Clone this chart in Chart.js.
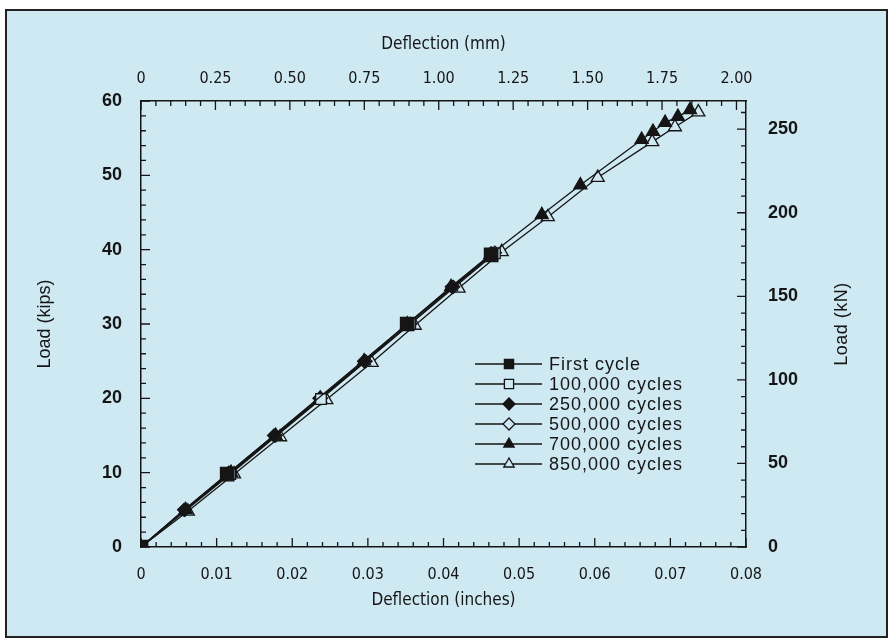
<!DOCTYPE html>
<html>
<head>
<meta charset="utf-8">
<title>Load vs deflection</title>
<script src="https://cdn.jsdelivr.net/npm/chart.js@4.4.0/dist/chart.umd.min.js"></script>
<style>
  html, body { margin: 0; padding: 0; background: #fff; }
</style>
</head>
<body>
<canvas id="chart" width="894" height="641"></canvas>
<script>
// deflection (inches) and load (kips)
var firstDefl = [0, 0.0114, 0.0352, 0.0463];
var firstLoad = [0, 9.8, 30.0, 39.3];

var c100Defl = [0, 0.0118, 0.0238, 0.0356, 0.0468];
var c100Load = [0, 9.8, 19.9, 30.0, 39.5];

var c250Defl = [0, 0.0057, 0.0116, 0.0176, 0.0236, 0.0295, 0.0353, 0.0411, 0.0464];
var c250Load = [0, 5.0, 10.0, 15.0, 20.0, 25.0, 30.0, 35.0, 39.5];

var c500Defl = [0, 0.0058, 0.0118, 0.0178, 0.0238, 0.0297, 0.0356, 0.0413, 0.0468];
var c500Load = [0, 5.0, 10.0, 15.0, 20.0, 25.0, 30.0, 35.0, 39.6];

var c700Defl = [0, 0.0059, 0.0119, 0.0178, 0.0237, 0.0295, 0.0352, 0.0410, 0.0462, 0.0530, 0.0581, 0.0662, 0.0677, 0.0693, 0.0710, 0.0726];
var c700Load = [0, 5.0, 10.0, 15.0, 20.0, 25.0, 30.0, 35.0, 39.3, 44.7, 48.7, 54.8, 55.9, 57.1, 57.9, 58.8];

var c850Defl = [0, 0.0062, 0.0123, 0.0184, 0.0245, 0.0305, 0.0362, 0.0420, 0.0477, 0.0538, 0.0604, 0.0676, 0.0706, 0.0737];
var c850Load = [0, 4.8, 9.8, 14.8, 19.8, 24.8, 29.8, 34.8, 39.7, 44.4, 49.7, 54.5, 56.5, 58.5];

var seriesNames = ['First cycle', '100,000 cycles', '250,000 cycles', '500,000 cycles', '700,000 cycles', '850,000 cycles'];

// axis ticks
var inchTicks = [0, 0.01, 0.02, 0.03, 0.04, 0.05, 0.06, 0.07, 0.08];
var mmTicks = [0, 0.25, 0.5, 0.75, 1.0, 1.25, 1.5, 1.75, 2.0];
var kipTicks = [0, 10, 20, 30, 40, 50, 60];
var knTicks = [0, 50, 100, 150, 200, 250];

var MM_PER_IN = 25.4;
var KN_PER_KIP = 4.448;

var BG = '#cfe9f3';
var INK = '#151515';
var NARROW = "'Liberation Sans Narrow', 'Arial Narrow', 'DejaVu Sans Condensed', sans-serif";
var SANS = "'Liberation Sans', Arial, sans-serif";

function pairs(xs, ys) {
    return xs.map(function(x, i) { return { x: x, y: ys[i] }; });
}

function makeSet(label, xs, ys, style, radius, filled) {
    return {
        label: label,
        data: pairs(xs, ys),
        xAxisID: 'x',
        yAxisID: 'y',
        showLine: true,
        borderColor: INK,
        borderWidth: 1.3,
        pointStyle: style,
        pointRadius: radius,
        pointBackgroundColor: filled ? INK : BG,
        pointBorderColor: INK,
        pointBorderWidth: 1.3
    };
}

var markers = [
    { style: 'rect', r: 9.5, filled: true },
    { style: 'rect', r: 7.5, filled: false },
    { style: 'rectRot', r: 6.5, filled: true },
    { style: 'rectRot', r: 6.5, filled: false },
    { style: 'triangle', r: 7.5, filled: true },
    { style: 'triangle', r: 7.5, filled: false }
];

var allDefl = [firstDefl, c100Defl, c250Defl, c500Defl, c700Defl, c850Defl];
var allLoad = [firstLoad, c100Load, c250Load, c500Load, c700Load, c850Load];

var datasets = seriesNames.map(function(name, i) {
    return makeSet(name, allDefl[i], allLoad[i], markers[i].style, markers[i].r, markers[i].filled);
});

function fixedTicks(list) {
    return function(scale) { scale.ticks = list.map(function(v) { return { value: v }; }); };
}

function decimalLabel(v) { return v === 0 ? '0' : v.toFixed(2); }

// background and outer frame
var backdrop = {
    id: 'backdrop',
    beforeDraw: function(chart) {
        var ctx = chart.ctx;
        ctx.save();
        ctx.fillStyle = '#fff';
        ctx.fillRect(0, 0, chart.width, chart.height);
        ctx.fillStyle = BG;
        ctx.fillRect(6, 10, 881, 627);
        ctx.strokeStyle = '#222';
        ctx.lineWidth = 2;
        ctx.strokeRect(6, 10, 881, 627);
        ctx.restore();
    }
};

// inward major / minor tick marks on all four sides
function tickRun(scale, from, to, step, majorEvery) {
    var out = [];
    var n = Math.round((to - from) / step);
    for (var i = 0; i <= n; i++) {
        out.push({ px: scale.getPixelForValue(from + i * step), major: i % majorEvery === 0 });
    }
    return out;
}

var innerTicks = {
    id: 'innerTicks',
    afterDraw: function(chart) {
        var ctx = chart.ctx, a = chart.chartArea, s = chart.scales;
        var MAJ = 9, MIN = 5;
        ctx.save();
        ctx.strokeStyle = INK;
        ctx.lineWidth = 1.3;
        ctx.beginPath();
        tickRun(s.x, 0, 0.08, 0.002, 5).forEach(function(t) {
            ctx.moveTo(t.px, a.bottom); ctx.lineTo(t.px, a.bottom - (t.major ? MAJ : MIN));
        });
        tickRun(s.xTop, 0, 2.0, 0.05, 5).forEach(function(t) {
            ctx.moveTo(t.px, a.top); ctx.lineTo(t.px, a.top + (t.major ? MAJ : MIN));
        });
        tickRun(s.y, 0, 60, 2, 5).forEach(function(t) {
            ctx.moveTo(a.left, t.px); ctx.lineTo(a.left + (t.major ? MAJ : MIN), t.px);
        });
        tickRun(s.yRight, 0, 260, 10, 5).forEach(function(t) {
            ctx.moveTo(a.right, t.px); ctx.lineTo(a.right - (t.major ? MAJ : MIN), t.px);
        });
        ctx.stroke();
        ctx.restore();
    }
};

// legend with a line through each marker, plus right axis title
var sideLegend = {
    id: 'sideLegend',
    afterDraw: function(chart) {
        var ctx = chart.ctx;
        ctx.save();
        datasets.forEach(function(ds, i) {
            var y = 364 + i * 20;
            ctx.strokeStyle = INK;
            ctx.lineWidth = 1.3;
            ctx.beginPath();
            ctx.moveTo(475, y);
            ctx.lineTo(542, y);
            ctx.stroke();
            ctx.fillStyle = markers[i].filled ? INK : BG;
            Chart.helpers.drawPoint(ctx, {
                pointStyle: markers[i].style,
                radius: markers[i].style === 'rect' ? 6.5 : 6,
                rotation: 0,
                borderWidth: 1.3
            }, 509, y);
            ctx.fillStyle = INK;
            ctx.font = '18px ' + SANS;
            ctx.letterSpacing = '1px';
            ctx.textBaseline = 'middle';
            ctx.textAlign = 'left';
            ctx.fillText(ds.label, 549, y + 1);
        });
        ctx.translate(842, 324);
        ctx.rotate(-Math.PI / 2);
        ctx.font = '18px ' + SANS;
        ctx.letterSpacing = '0.5px';
        ctx.textAlign = 'center';
        ctx.textBaseline = 'middle';
        ctx.fillText('Load (kN)', 0, 0);
        ctx.restore();
    }
};

var chart = new Chart(document.getElementById('chart'), {
    type: 'scatter',
    data: { datasets: datasets },
    plugins: [backdrop, innerTicks, sideLegend],
    options: {
        responsive: false,
        animation: false,
        layout: { padding: 0 },
        plugins: { legend: { display: false }, tooltip: { enabled: false } },
        scales: {
            x: {
                type: 'linear', position: 'bottom', min: 0, max: 0.08,
                afterBuildTicks: fixedTicks(inchTicks),
                afterFit: function(scale) { scale.height = 94; },
                grid: { display: false, drawTicks: false },
                border: { display: true, color: INK, width: 1.5 },
                ticks: { padding: 18, color: INK, font: { family: NARROW, size: 16 }, callback: decimalLabel, maxRotation: 0 },
                title: { display: true, text: 'Deflection (inches)', color: INK, font: { family: NARROW, size: 17 }, padding: { top: 0, bottom: 30 } }
            },
            xTop: {
                type: 'linear', axis: 'x', position: 'top', min: 0, max: 0.08 * MM_PER_IN,
                afterBuildTicks: fixedTicks(mmTicks),
                afterFit: function(scale) { scale.height = 101; },
                grid: { display: false, drawTicks: false },
                border: { display: true, color: INK, width: 1.5 },
                ticks: { padding: 13, color: INK, font: { family: NARROW, size: 16 }, callback: decimalLabel, maxRotation: 0 },
                title: { display: true, text: 'Deflection (mm)', color: INK, font: { family: NARROW, size: 17 }, padding: { top: 34, bottom: 0 } }
            },
            y: {
                type: 'linear', position: 'left', min: 0, max: 60,
                afterBuildTicks: fixedTicks(kipTicks),
                afterFit: function(scale) { scale.width = 141; },
                grid: { display: false, drawTicks: false },
                border: { display: true, color: INK, width: 1.5 },
                ticks: { padding: 19, color: INK, font: { family: SANS, size: 18, weight: 'bold' } },
                title: { display: true, text: 'Load (kips)', color: INK, font: { family: SANS, size: 18 }, padding: { top: 34, bottom: 0 } }
            },
            yRight: {
                type: 'linear', axis: 'y', position: 'right', min: 0, max: 60 * KN_PER_KIP,
                afterBuildTicks: fixedTicks(knTicks),
                afterFit: function(scale) { scale.width = 148; },
                grid: { display: false, drawTicks: false },
                border: { display: true, color: INK, width: 1.5 },
                ticks: { padding: 22, color: INK, font: { family: SANS, size: 18, weight: 'bold' } }
            }
        }
    }
});
</script>
</body>
</html>
